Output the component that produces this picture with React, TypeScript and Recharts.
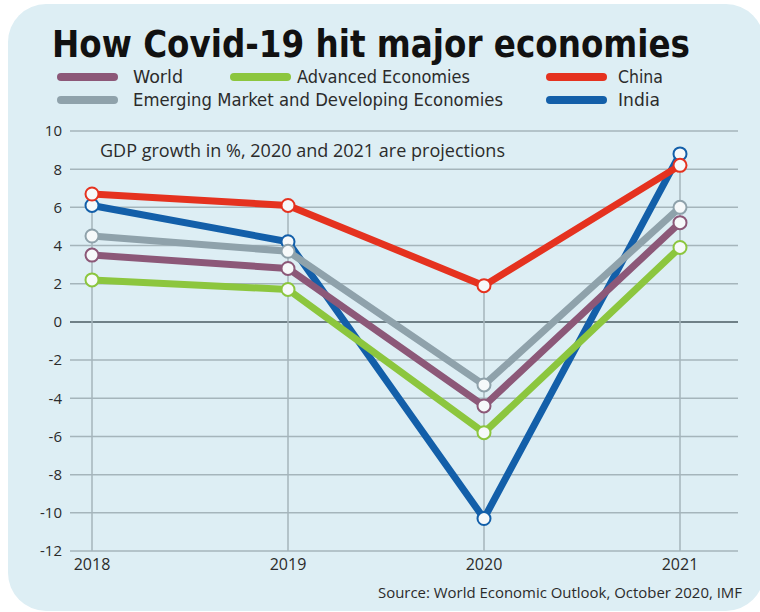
import React from 'react';
import { LineChart, Line, XAxis, YAxis, ReferenceLine } from 'recharts';

// GDP growth in %, IMF WEO October 2020 (2020 and 2021 are projections)
const years = ['2018', '2019', '2020', '2021'];
const world = [3.5, 2.8, -4.4, 5.2];
const advanced = [2.2, 1.7, -5.8, 3.9];
const emerging = [4.5, 3.7, -3.3, 6.0];
const china = [6.7, 6.1, 1.9, 8.2];
const india = [6.1, 4.2, -10.3, 8.8];
const yTicks = [-12, -10, -8, -6, -4, -2, 0, 2, 4, 6, 8, 10];

const COLORS = {
  world: '#8c5878',
  advanced: '#8cc63e',
  emerging: '#8fa2ab',
  china: '#e5321f',
  india: '#135fa9',
};

const data = years.map((year, i) => ({
  year,
  world: world[i],
  advanced: advanced[i],
  emerging: emerging[i],
  china: china[i],
  india: india[i],
}));

// vertical guides run from the top point of each year down to the axis floor
const yearTops = years.map((_, i) => Math.max(world[i], advanced[i], emerging[i], china[i], india[i]));

// draw order: first is at the bottom
const series = [
  { key: 'india', color: COLORS.india },
  { key: 'emerging', color: COLORS.emerging },
  { key: 'world', color: COLORS.world },
  { key: 'advanced', color: COLORS.advanced },
  { key: 'china', color: COLORS.china },
];

const legendRows = [
  [
    { label: 'World', color: COLORS.world, sx: 57, tx: 133, tw: 50 },
    { label: 'Advanced Economies', color: COLORS.advanced, sx: 230, tx: 297, tw: 173 },
    { label: 'China', color: COLORS.china, sx: 546, tx: 618, tw: 45 },
  ],
  [
    { label: 'Emerging Market and Developing Economies', color: COLORS.emerging, sx: 57, tx: 133, tw: 370 },
    { label: 'India', color: COLORS.india, sx: 546, tx: 618, tw: 42 },
  ],
];

const GRID = '#a5b5bb';
const tickFont = { fontFamily: 'Open Sans', fontSize: 15, fill: '#2b2b2b' };

export default function App() {
  return (
    <div style={{ position: 'fixed', left: 0, top: 0, width: 760, height: 612, background: '#fff', overflow: 'hidden' }}>
      <div
        style={{
          position: 'absolute',
          left: 8,
          top: 4,
          width: 756,
          height: 607,
          borderRadius: 38,
          background: '#ddeef4',
        }}
      />
      <div style={{ position: 'absolute', left: 0, top: 0 }}>
        <LineChart
          width={760}
          height={612}
          data={data}
          margin={{ top: 131, right: 22, bottom: 31, left: 10 }}
        >
          {yTicks.map((t) => (
            <ReferenceLine
              key={t}
              y={t}
              stroke={t === 0 ? '#6f8087' : GRID}
              strokeWidth={t === 0 ? 2 : 1.5}
            />
          ))}
          {years.map((year, i) => (
            <ReferenceLine
              key={year}
              segment={[
                { x: year, y: yearTops[i] },
                { x: year, y: -12 },
              ]}
              stroke={GRID}
              strokeWidth={1.5}
            />
          ))}
          <XAxis
            dataKey="year"
            axisLine={false}
            tickLine={false}
            height={30}
            padding={{ left: 22, right: 58 }}
            tick={{ ...tickFont, fontSize: 16 }}
          />
          <YAxis
            type="number"
            domain={[-12, 10]}
            ticks={yTicks}
            interval={0}
            width={60}
            axisLine={false}
            tickLine={false}
            tick={tickFont}
          />
          {series.map((s) => (
            <Line
              key={s.key}
              dataKey={s.key}
              stroke={s.color}
              strokeWidth={7}
              strokeLinejoin="round"
              dot={{ r: 6.5, fill: '#f6f9fa', stroke: s.color, strokeWidth: 2 }}
              isAnimationActive={false}
            />
          ))}
        </LineChart>
      </div>
      <svg width={760} height={612} style={{ position: 'absolute', left: 0, top: 0, pointerEvents: 'none' }}>
        <text
          x={52}
          y={57}
          fontFamily="DejaVu Sans Condensed, DejaVu Sans"
          fontWeight="bold"
          fontSize={37}
          fill="#111"
          textLength={638}
          lengthAdjust="spacingAndGlyphs"
        >
          How Covid-19 hit major economies
        </text>
        {legendRows.map((row, r) =>
          row.map((item) => (
            <g key={item.label}>
              <line
                x1={item.sx + 4}
                x2={item.sx + 57}
                y1={77 + r * 23}
                y2={77 + r * 23}
                stroke={item.color}
                strokeWidth={8}
                strokeLinecap="round"
              />
              <text
                x={item.tx}
                y={83 + r * 23}
                fontFamily="Liberation Sans Narrow, DejaVu Sans Condensed"
                fontSize={18}
                fill="#2b2b2b"
                textLength={item.tw}
                lengthAdjust="spacingAndGlyphs"
              >
                {item.label}
              </text>
            </g>
          ))
        )}
        <text
          x={100}
          y={157}
          fontFamily="Open Sans"
          fontSize={17.5}
          fill="#2b2b2b"
          textLength={405}
          lengthAdjust="spacingAndGlyphs"
        >
          GDP growth in %, 2020 and 2021 are projections
        </text>
        <text
          x={378}
          y={598}
          fontFamily="Open Sans"
          fontSize={14.5}
          fill="#2b2b2b"
          textLength={364}
          lengthAdjust="spacingAndGlyphs"
        >
          Source: World Economic Outlook, October 2020, IMF
        </text>
      </svg>
    </div>
  );
}
